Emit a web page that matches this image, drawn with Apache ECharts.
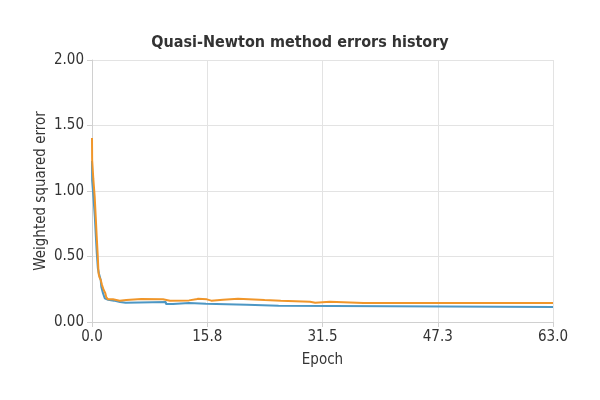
<!DOCTYPE html>
<html>
<head>
<meta charset="utf-8">
<script src="https://cdn.jsdelivr.net/npm/echarts@6/dist/echarts.min.js"></script>
<style>html,body{margin:0;padding:0;background:#fff}#c{width:600px;height:400px}</style>
</head>
<body>
<div id="c"></div>
<script>
const titleText = 'Quasi-Newton method errors history';
const xAxisName = 'Epoch';
const yAxisName = 'Weighted squared error';
const xTickLabels = ['0.0', '15.8', '31.5', '47.3', '63.0'];
const yTickLabels = ['0.00', '0.50', '1.00', '1.50', '2.00'];

const trainingX = [0, 0.02, 0.2, 0.39, 0.53, 0.66, 0.80, 0.95, 1.19, 1.27, 1.50, 1.74, 1.95, 2.2, 3.0, 3.83, 4.6, 10.1, 11.07, 13.26, 15.58, 21.18, 25.5, 63];
const trainingY = [1.23, 1.08, 0.95, 0.80, 0.65, 0.52, 0.41, 0.37, 0.32, 0.27, 0.22, 0.181, 0.170, 0.163, 0.153, 0.147, 0.153, 0.137, 0.145, 0.140, 0.132, 0.124, 0.115, 0.115];

const selectionX = [0, 0.02, 0.18, 0.37, 0.51, 0.64, 0.78, 0.89, 1.0, 1.19, 1.37, 1.60, 1.82, 1.95, 2.19, 2.87, 3.79, 4.69, 6.74, 9.70, 10.66, 13.26, 14.2, 14.5, 15.7, 16.3, 17.9, 19.95, 23.6, 25.8, 29.8, 30.5, 32.5, 37.1, 37.35, 63];
const selectionY = [1.405, 1.237, 1.092, 0.954, 0.802, 0.656, 0.511, 0.374, 0.345, 0.321, 0.282, 0.244, 0.219, 0.189, 0.173, 0.163, 0.168, 0.176, 0.173, 0.163, 0.165, 0.173, 0.178, 0.173, 0.163, 0.170, 0.178, 0.168, 0.163, 0.155, 0.147, 0.155, 0.145, 0.140, 0.145, 0.145];

// hold each value until the next x (step shape)
const stepPairs = (xs, ys) => {
  const out = [];
  xs.forEach((x, i) => {
    out.push([x, ys[i]]);
    if (i + 1 < xs.length) out.push([xs[i + 1], ys[i]]);
  });
  return out;
};
const xMax = 63;
const font = "'DejaVu Sans Condensed', 'DejaVu Sans'";
const textColor = '#333';
const axisGrey = '#d0d0d0';
const gridGrey = '#e3e3e3';

const chart = echarts.init(document.getElementById('c'), null, {renderer: 'canvas'});
chart.setOption({
  animation: false,
  backgroundColor: '#fff',
  title: {
    text: titleText, left: 'center', top: 30,
    textStyle: {fontFamily: font, fontSize: 16, fontWeight: 'bold', color: '#333'}
  },
  grid: {left: 92, right: 47, top: 60, bottom: 78},
  xAxis: {
    type: 'value', min: 0, max: xMax, interval: xMax / 4,
    name: xAxisName, nameLocation: 'middle', nameGap: 31, nameMoveOverlap: false,
    nameTextStyle: {fontFamily: font, fontSize: 15, color: textColor},
    axisLine: {show: true, lineStyle: {color: axisGrey}},
    axisTick: {show: true, length: 5, lineStyle: {color: axisGrey}},
    splitLine: {show: true, lineStyle: {color: gridGrey}},
    axisLabel: {fontFamily: font, fontSize: 15, color: textColor, margin: 8,
      formatter: (v) => xTickLabels[Math.round(v / (xMax / 4))]}
  },
  yAxis: {
    type: 'value', min: 0, max: 2, interval: 0.5,
    name: yAxisName, nameLocation: 'middle', nameGap: 43, nameMoveOverlap: false,
    nameTextStyle: {fontFamily: font, fontSize: 15, color: textColor},
    axisLine: {show: true, lineStyle: {color: axisGrey}},
    axisTick: {show: true, length: 5, lineStyle: {color: axisGrey}},
    splitLine: {show: true, lineStyle: {color: gridGrey}},
    axisLabel: {fontFamily: font, fontSize: 15, color: textColor, margin: 8,
      formatter: (v) => yTickLabels[Math.round(v / 0.5)]}
  },
  series: [
    {type: 'line', name: 'Training', data: stepPairs(trainingX, trainingY),
     showSymbol: false, lineStyle: {width: 2, color: '#4d97c4'}, itemStyle: {color: '#4d97c4'}},
    {type: 'line', name: 'Selection', data: stepPairs(selectionX, selectionY),
     showSymbol: false, lineStyle: {width: 2, color: '#f0962a'}, itemStyle: {color: '#f0962a'}}
  ]
});
</script>
</body>
</html>
